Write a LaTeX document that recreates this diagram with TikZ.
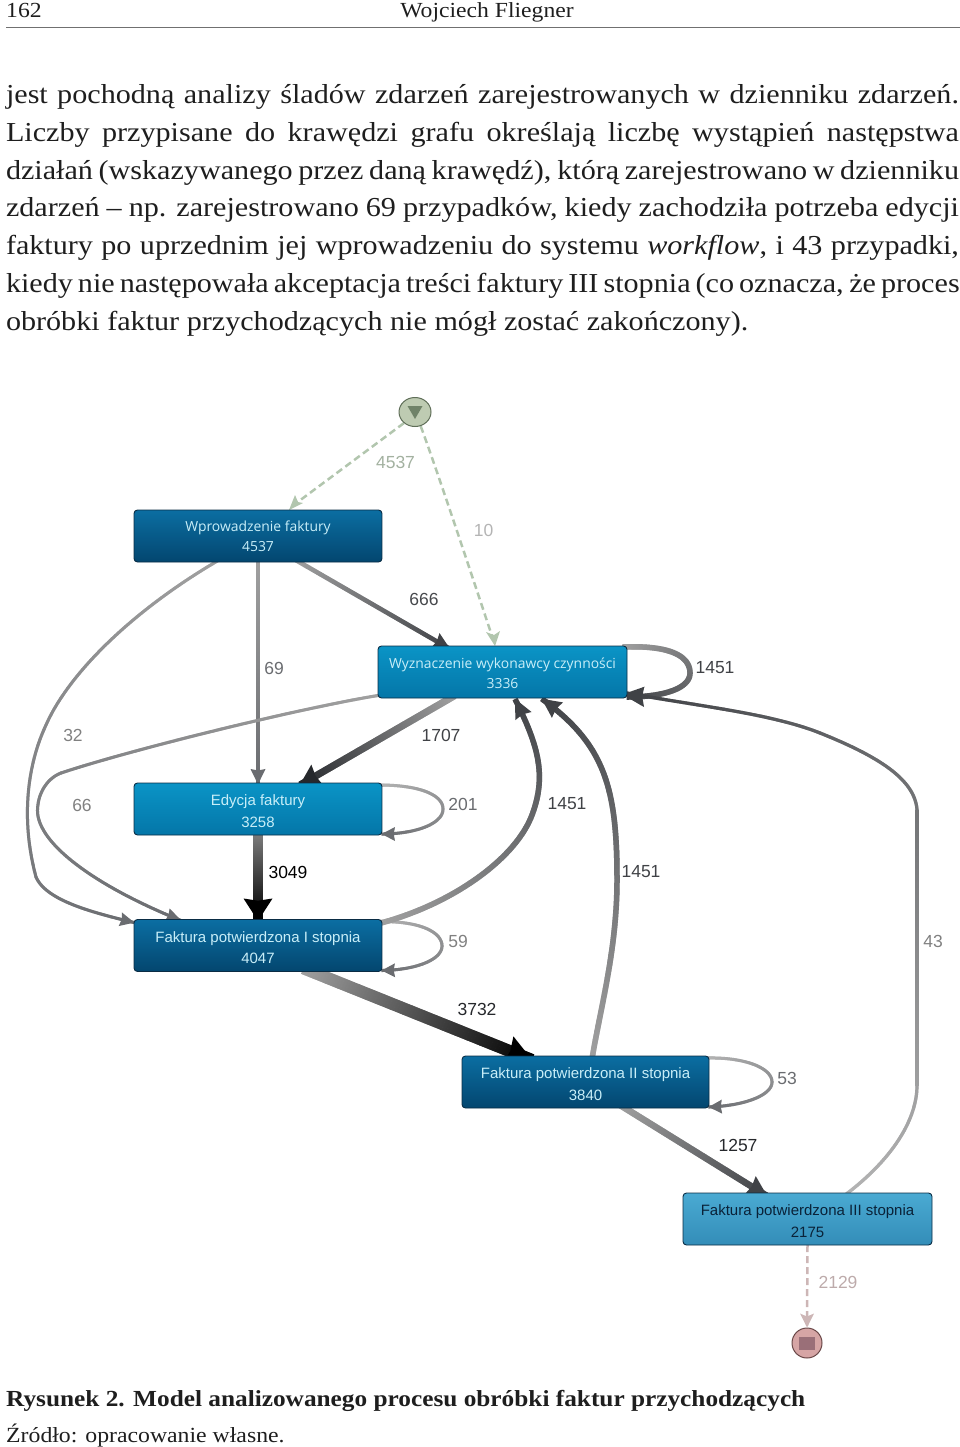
\documentclass[tikz,border=0pt]{standalone}
\usepackage{fontspec}
\setmainfont[FakeStretch=1.1]{Liberation Serif}
\setsansfont{Liberation Sans}
\newfontfamily\boxfont{Open Sans}
\usetikzlibrary{decorations.markings,calc,shapes.geometric}
\pgfdeclarelayer{edges}
\pgfsetlayers{edges,main}
\definecolor{gA}{HTML}{B4B4B4}
\definecolor{gB}{HTML}{A0A0A0}
\definecolor{gC}{HTML}{808080}
\definecolor{gD}{HTML}{6A6C70}
\definecolor{gE}{HTML}{404246}
\definecolor{gF}{HTML}{26282C}
\definecolor{gG}{HTML}{000000}
\definecolor{startC}{HTML}{B2C6AE}
\definecolor{startF}{HTML}{BECBB2}
\definecolor{startK}{HTML}{6F8268}
\definecolor{startL}{HTML}{5F6E58}
\definecolor{endC}{HTML}{CDB6B6}
\definecolor{endF}{HTML}{D6A5A5}
\definecolor{endK}{HTML}{9A6F78}
\definecolor{endL}{HTML}{6A4848}
\definecolor{rule}{HTML}{707070}
\definecolor{inkT}{HTML}{1E1E1E}
\definecolor{blackbluedark}{HTML}{0A2C44}
\definecolor{topDark}{HTML}{0B6EA2}
\definecolor{botDark}{HTML}{03466F}
\definecolor{topMid}{HTML}{0A94C6}
\definecolor{botMid}{HTML}{0476A8}
\definecolor{topLight}{HTML}{4AAAD2}
\definecolor{botLight}{HTML}{338DB8}
\definecolor{txtPale}{HTML}{C8EEF8}
\definecolor{txtDark}{HTML}{0A2238}
\tikzset{
  flow/.style n args={5}{
    postaction={decorate,decoration={markings,
      mark=between positions 0 and 1 step 1pt with {
        \pgfmathsetmacro\mixv{100*(\pgfkeysvalueof{/pgf/decoration/mark info/distance from start}/\pgfdecoratedpathlength)}
        \fill[color=#2!\mixv!#1] (-0.8pt,-#3/2) rectangle (0.8pt,#3/2);}}},
    postaction={decorate,decoration={markings,
      mark=at position 0.9999 with {
        \fill[color=#2] (0.4pt,0pt) -- (-#4,#5/2) -- (-0.9*#4,0pt) -- (-#4,-#5/2) -- cycle;}}}},
  boxbase/.style={rectangle,rounded corners=3.5pt,minimum width=248pt,minimum height=52pt,
    inner sep=0pt,outer sep=0pt,align=center,draw=blackbluedark,line width=0.9pt},
  dark/.style={boxbase,top color=topDark,bottom color=botDark,text=txtPale},
  mid/.style={boxbase,top color=topMid,bottom color=botMid,text=txtPale},
  light/.style={boxbase,top color=topLight,bottom color=botLight,text=txtDark},
  boxtextA/.style={font=\boxfont\fontsize{13.9}{19.5}\selectfont},
  boxtextB/.style={font=\sffamily\fontsize{15}{21.5}\selectfont},
  elabel/.style={font=\sffamily\fontsize{17.5}{20}\selectfont,inner sep=0pt},
  bodyline/.style={anchor=base west,inner sep=0pt,outer sep=0pt,font=\fontsize{27.4}{30}\selectfont,text=inkT},
  dashS/.style={draw=startC,line width=2.5pt,dash pattern=on 7pt off 4pt},
  dashE/.style={draw=endC,line width=2.5pt,dash pattern=on 7pt off 4pt}
}
\newcommand{\topfixA}{\mbox{}\\[-6pt]}
\newcommand{\topfixB}{\mbox{}\\[-6.5pt]}
\begin{document}
\begin{tikzpicture}[x=1pt,y=-1pt]
\useasboundingbox (0,0) rectangle (960,1447);
% header
\node[anchor=base west,inner sep=0pt,font=\fontsize{21.5}{26}\selectfont,text=inkT] (pg) at (6,18) {162};
\node[anchor=base,inner sep=0pt,font=\fontsize{21.5}{26}\selectfont,text=inkT] (au) at (487,18) {Wojciech Fliegner};
\coordinate (ruleL) at (6,27); \coordinate (ruleR) at (960,27);
\draw[rule,line width=0.8pt] (ruleL) -- (ruleR);
% body
\path (6,103.5) node[bodyline] (t1) {\hbox to 953pt{jest pochodną analizy śladów zdarzeń zarejestrowanych w dzienniku zdarzeń.}};
\path (6,141.5) node[bodyline] (t2) {\hbox to 953pt{Liczby przypisane do krawędzi grafu określają liczbę wystąpień następstwa}};
\path (6,179.5) node[bodyline] (t3) {\hbox to 953pt{działań (wskazywanego przez daną krawędź), którą zarejestrowano w dzienniku}};
\path (6,217) node[bodyline] (t4) {\hbox to 953pt{zdarzeń – np. zarejestrowano 69 przypadków, kiedy zachodziła potrzeba edycji}};
\path (6,254.5) node[bodyline] (t5) {\hbox to 953pt{faktury po uprzednim jej wprowadzeniu do systemu \textit{workflow}, i 43 przypadki,}};
\path (6,292) node[bodyline] (t6) {\hbox to 953pt{kiedy nie następowała akceptacja treści faktury III stopnia (co oznacza, że proces}};
\path (6,330) node[bodyline] (t7) {obróbki faktur przychodzących nie mógł zostać zakończony).};
% nodes
\node[dark,boxtextA] (A) at (258,536) {Wprowadzenie faktury\\4537};
\node[mid,boxtextA,minimum width=249pt] (B) at (502.5,672) {\topfixA Wyznaczenie wykonawcy czynności\\3336};
\node[mid,boxtextB] (C) at (258,809) {\topfixB Edycja faktury\\3258};
\node[dark,boxtextB] (D) at (258,945.5) {\topfixB Faktura potwierdzona I stopnia\\4047};
\node[dark,boxtextB,minimum width=247pt] (E) at (585.5,1082) {\topfixB Faktura potwierdzona II stopnia\\3840};
\node[light,boxtextB,minimum width=249pt] (F) at (807.5,1219) {\topfixB Faktura potwierdzona III stopnia\\2175};
\node[ellipse,draw=startL,fill=startF,line width=1pt,minimum width=32pt,minimum height=29pt,inner sep=0pt] (S) at (415,412) {};
\fill[color=startK] ([shift={(-7.5,-6)}]S.center) -- ([shift={(7.5,-6)}]S.center) -- ([shift={(0,7)}]S.center) -- cycle;
\node[circle,draw=endL,fill=endF,line width=1pt,minimum width=30pt,inner sep=0pt] (T) at (807,1343) {};
\fill[color=endK] ([shift={(-8,-6.5)}]T.center) rectangle ([shift={(8,6.5)}]T.center);
% connectors
\begin{pgfonlayer}{edges}
\draw[dashS] (S.225) -- ([xshift=157pt,yshift=3pt]A.north west);
\fill[startC] ([xshift=155pt]A.north west) -- ++(14,-7) -- ++(-5,-1) -- ++(-3,-7) -- cycle;
\draw[dashS] (S.292) .. controls (438,473) and (470,570) .. ([xshift=116pt,yshift=4pt]B.north west);
\fill[startC] ([xshift=117pt]B.north west) -- ++(-9,-14) -- ++(8,3) -- ++(6,-4) -- cycle;
\draw[dashE] (F.south) -- ([yshift=2pt]T.north);
\fill[endC] (T.north) -- ++(-7,-14) -- ++(7,3) -- ++(7,-3) -- cycle;
\path[flow={gB}{gE}{4.4pt}{17pt}{17pt}] ([xshift=160pt,yshift=3pt]A.south west) -- ([xshift=72pt,yshift=-3pt]B.north west);
\path[flow={gB}{gD}{3.2pt}{15pt}{15pt}] ([yshift=3pt]A.south) -- ([yshift=-1pt]C.north);
\path[flow={gB}{gD}{3pt}{14pt}{14pt}] ([xshift=85pt,yshift=2pt]A.south west) .. controls (130,612) and (68,675) .. (46,725) .. controls (25,770) and (22,825) .. (36,877) .. controls (46,900) and (90,912) .. ([yshift=-3pt]D.north west);
\path[flow={gB}{gD}{3pt}{15pt}{14pt}] ([xshift=3pt,yshift=3pt]B.south west) .. controls (300,708) and (130,750) .. (61,773) .. controls (48,778) and (38,792) .. (37.5,810) .. controls (37,845) and (100,888) .. ([xshift=47pt,yshift=-1pt]D.north west);
\path[flow={gB}{gF}{7pt}{20pt}{24pt}] ([xshift=76pt,yshift=2pt]B.south west) -- ([xshift=166pt,yshift=-2pt]C.north west);
\path[flow={gB}{gE}{5.5pt}{17pt}{20pt}] ([xshift=-4pt,yshift=-1pt]B.north east) .. controls (672,645) and (690,657) .. (690,673) .. controls (690,689) and (662,697) .. ([yshift=1pt]B.south east);
\path[flow={gA}{gD}{3pt}{13pt}{14pt}] ([xshift=-3pt,yshift=-2pt]C.north east) .. controls (420,785) and (443,795) .. (443,809) .. controls (443,824) and (415,834) .. ([yshift=1pt]C.south east);
\path[flow={gA}{gD}{3pt}{13pt}{14pt}] ([xshift=-3pt,yshift=-2pt]D.north east) .. controls (420,921) and (442,932) .. (442,946) .. controls (442,960) and (415,970) .. ([yshift=1pt]D.south east);
\path[flow={gA}{gD}{3pt}{13pt}{14pt}] ([xshift=-3pt,yshift=-2pt]E.north east) .. controls (745,1057) and (772,1068) .. (772,1082) .. controls (772,1096) and (742,1106) .. ([yshift=1pt]E.south east);
\path[flow={gC}{gG}{10pt}{22pt}{29pt}] ([yshift=3pt]C.south) -- ([yshift=-1pt]D.north);
\path[flow={gB}{gG}{12pt}{26pt}{30pt}] ([xshift=170pt,yshift=3pt]D.south west) -- ([xshift=70pt,yshift=-4pt]E.north west);
\path[flow={gB}{gE}{6.5pt}{20pt}{22pt}] ([xshift=158pt,yshift=3pt]E.south west) -- ([xshift=84pt,yshift=-3pt]F.north west);
\path[flow={gB}{gE}{5.5pt}{19pt}{18pt}] ([xshift=-3pt,yshift=-4pt]D.north east) .. controls (450,905) and (515,860) .. (532,815) .. controls (547,775) and (538,745) .. ([xshift=137pt,yshift=-1pt]B.south west);
\path[flow={gB}{gE}{5.5pt}{19pt}{19pt}] ([xshift=130pt,yshift=-3pt]E.north west) .. controls (600,1010) and (617,950) .. (617,880) .. controls (617,790) and (606,745) .. ([xshift=164pt,yshift=-1pt]B.south west);
\path[flow={gA}{gE}{3.2pt}{16pt}{19pt}] ([xshift=162pt,yshift=-2pt]F.north west) .. controls (885,1165) and (917,1125) .. (917,1085) -- (917,810) .. controls (915,780) and (880,757) .. (820,733) .. controls (770,713) and (690,705) .. ([yshift=5pt]B.south east);
\end{pgfonlayer}
% labels
\node[elabel,text=startC!70!gray] (l1) at (395.5,462) {4537};
\node[elabel,text=gA] (l2) at (483.5,530) {10};
\node[elabel,text=gE!90!gray] (l3) at (424,599) {666};
\node[elabel,text=gD] (l4) at (274,668) {69};
\node[elabel,text=gE] (l5) at (715,668) {1451};
\node[elabel,text=gC] (l6) at (73,735) {32};
\node[elabel,text=gE] (l7) at (441,735) {1707};
\node[elabel,text=gC] (l8) at (82,805) {66};
\node[elabel,text=gD] (l9) at (463,804) {201};
\node[elabel,text=gE] (l10) at (567,804) {1451};
\node[elabel,text=gE] (l11) at (641,872) {1451};
\node[elabel,text=gG] (l12) at (288,872) {3049};
\node[elabel,text=gC] (l13) at (458,941) {59};
\node[elabel,text=gC] (l14) at (933,941) {43};
\node[elabel,text=gF] (l15) at (477,1009) {3732};
\node[elabel,text=gD] (l16) at (787,1078) {53};
\node[elabel,text=gF] (l17) at (738,1145) {1257};
\node[elabel,text=endC!80!gray] (l18) at (838,1282) {2129};
% caption
\node[anchor=base west,inner sep=0pt,font=\bfseries\fontsize{23}{28}\selectfont,text=inkT] (c1) at (6,1406) {Rysunek 2. Model analizowanego procesu obróbki faktur przychodzących};
\node[anchor=base west,inner sep=0pt,font=\fontsize{21.6}{26}\selectfont,text=inkT] (c2) at (6,1442) {Źródło: opracowanie własne.};
\end{tikzpicture}
\end{document}
